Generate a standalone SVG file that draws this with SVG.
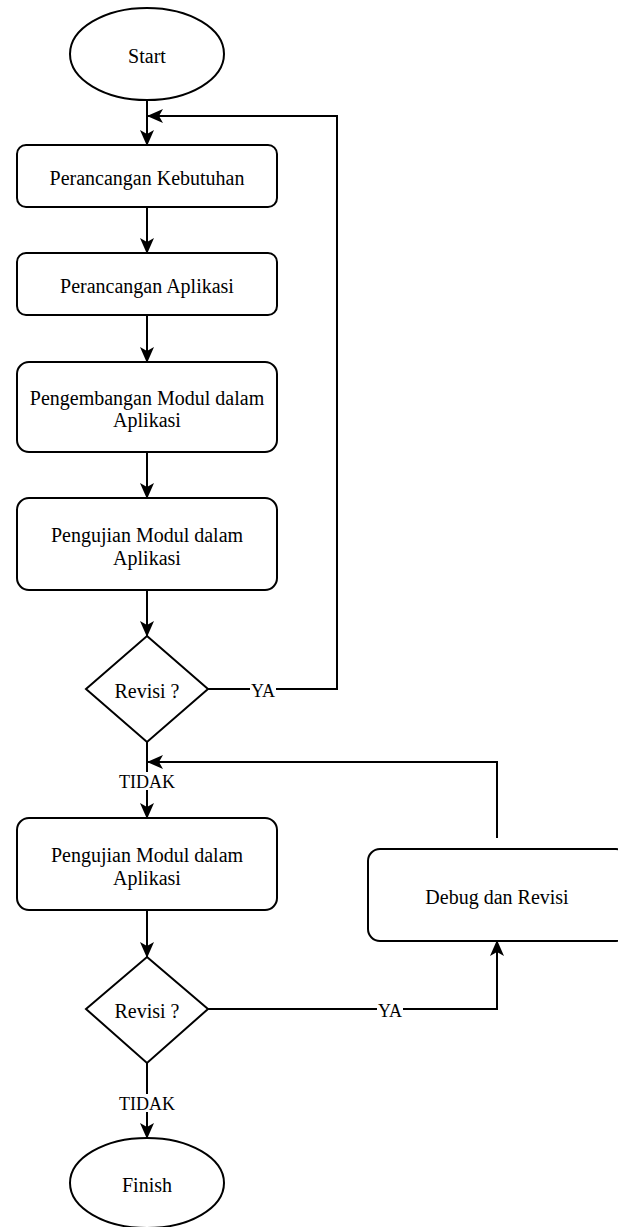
<svg xmlns="http://www.w3.org/2000/svg" width="618" height="1227" viewBox="0 0 618 1227">
<style>
.n{fill:#fff;stroke:#000;stroke-width:2}
.t{font-family:"Liberation Serif","Times New Roman",serif;font-size:20px;fill:#000;text-anchor:middle}
.l{font-family:"Liberation Serif","Times New Roman",serif;font-size:18px;fill:#000;text-anchor:middle}
.c{fill:none;stroke:#000;stroke-width:2}
.lb{fill:#fff}
</style>
<defs>
<marker id="ah" viewBox="0 0 16 16" refX="15" refY="8" markerWidth="16" markerHeight="16" markerUnits="userSpaceOnUse" orient="auto">
<path d="M0,1 L16,8 L0,15 L4,8 Z" fill="#000"/>
</marker>
</defs>
<rect width="618" height="1227" fill="#fff"/>
<g id="connectors">
<path class="c" d="M147,100 V145" marker-end="url(#ah)"/>
<path class="c" d="M208,689 H337 V116 H148" marker-end="url(#ah)"/>
<path class="c" d="M147,207 V253" marker-end="url(#ah)"/>
<path class="c" d="M147,315 V362" marker-end="url(#ah)"/>
<path class="c" d="M147,452 V498" marker-end="url(#ah)"/>
<path class="c" d="M147,590 V636" marker-end="url(#ah)"/>
<path class="c" d="M147,742 V818" marker-end="url(#ah)"/>
<path class="c" d="M497,838 V762 H148" marker-end="url(#ah)"/>
<path class="c" d="M147,910 V957" marker-end="url(#ah)"/>
<path class="c" d="M208,1009 H497 V941" marker-end="url(#ah)"/>
<path class="c" d="M147,1063 V1138" marker-end="url(#ah)"/>
<rect class="lb" x="250" y="680" width="26" height="18"/>
<text class="l" x="263" y="697">YA</text>
<rect class="lb" x="118" y="772" width="58" height="18"/>
<text class="l" x="147" y="788">TIDAK</text>
<rect class="lb" x="377" y="1000" width="26" height="18"/>
<text class="l" x="390" y="1017">YA</text>
<rect class="lb" x="118" y="1094" width="58" height="18"/>
<text class="l" x="147" y="1110">TIDAK</text>
</g>
<g id="start">
<ellipse class="n" cx="147" cy="54" rx="77" ry="46"/>
<text class="t" x="147" y="63">Start</text>
</g>
<g id="perancangan-kebutuhan">
<rect class="n" x="17" y="145" width="260" height="62" rx="9"/>
<text class="t" x="147" y="185">Perancangan Kebutuhan</text>
</g>
<g id="perancangan-aplikasi">
<rect class="n" x="17" y="253" width="260" height="62" rx="9"/>
<text class="t" x="147" y="293">Perancangan Aplikasi</text>
</g>
<g id="pengembangan-modul">
<rect class="n" x="17" y="362" width="260" height="90" rx="12"/>
<text class="t" x="147" y="405">Pengembangan Modul dalam</text>
<text class="t" x="147" y="427">Aplikasi</text>
</g>
<g id="pengujian-modul-1">
<rect class="n" x="17" y="498" width="260" height="92" rx="12"/>
<text class="t" x="147" y="542">Pengujian Modul dalam</text>
<text class="t" x="147" y="565">Aplikasi</text>
</g>
<g id="revisi-1">
<polygon class="n" points="147,636 208,689 147,742 86,689"/>
<text class="t" x="147" y="698">Revisi ?</text>
</g>
<g id="pengujian-modul-2">
<rect class="n" x="17" y="818" width="260" height="92" rx="12"/>
<text class="t" x="147" y="862">Pengujian Modul dalam</text>
<text class="t" x="147" y="885">Aplikasi</text>
</g>
<g id="debug-revisi">
<rect class="n" x="368" y="849" width="260" height="92" rx="12"/>
<text class="t" x="497" y="904">Debug dan Revisi</text>
</g>
<g id="revisi-2">
<polygon class="n" points="147,957 208,1009 147,1063 86,1009"/>
<text class="t" x="147" y="1018">Revisi ?</text>
</g>
<g id="finish">
<ellipse class="n" cx="147" cy="1183" rx="77" ry="45"/>
<text class="t" x="147" y="1192">Finish</text>
</g>
</svg>
